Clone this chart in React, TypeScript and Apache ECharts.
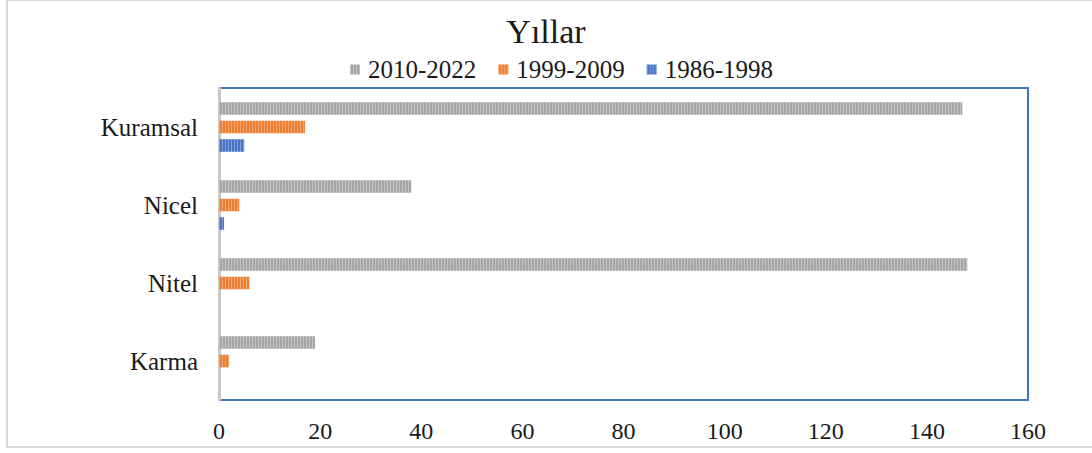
import React, { useEffect, useRef } from "react";
import * as echarts from "echarts";

const categories = ["Kuramsal", "Nicel", "Nitel", "Karma"];
const seriesNames = ["2010-2022", "1999-2009", "1986-1998"];
const values2010_2022 = [147, 38, 148, 19];
const values1999_2009 = [17, 4, 6, 2];
const values1986_1998 = [5, 1, 0, 0];
const xTicks = { min: 0, max: 160, interval: 20 };
const colors = ["#a5a5a5", "#ed7d31", "#4472c4"];

export default function App() {
  const ref = useRef<HTMLDivElement>(null);
  useEffect(() => {
    if (!ref.current) return;
    const chart = echarts.init(ref.current, null, { renderer: "svg" });
    const serif = "'Liberation Serif', 'Times New Roman', serif";
    const decal = {
      symbol: "rect",
      symbolSize: 1,
      dashArrayX: [1, 2],
      dashArrayY: [1, 0],
      rotation: 0,
      color: "rgba(255,255,255,0.35)",
    };
    const allValues = [values2010_2022, values1999_2009, values1986_1998];
    chart.setOption({
      animation: false,
      backgroundColor: "#ffffff",
      title: {
        text: "Yıllar",
        left: "center",
        top: 9,
        textStyle: { fontFamily: serif, fontSize: 34, fontWeight: "normal", color: "#1a1a1a" },
      },
      legend: {
        data: seriesNames,
        top: 52,
        left: 345,
        itemWidth: 10,
        itemHeight: 10,
        itemGap: 22,
        icon: "rect",
        textStyle: { fontFamily: serif, fontSize: 25, color: "#1a1a1a", padding: [0, 0, 0, 3] },
      },
      graphic: [
        {
          type: "rect",
          shape: { x: 7, y: 0, width: 1090, height: 447 },
          style: { fill: "none", stroke: "#d9d9d9", lineWidth: 2 },
          silent: true,
        },
      ],
      grid: {
        left: 219,
        right: 64,
        top: 88,
        bottom: 53,
        show: true,
        borderColor: "#4472c4",
        borderWidth: 2,
        backgroundColor: "transparent",
        containLabel: false,
      },
      xAxis: {
        type: "value",
        min: xTicks.min,
        max: xTicks.max,
        interval: xTicks.interval,
        axisLine: { show: false },
        axisTick: { show: false },
        splitLine: { show: false },
        axisLabel: { fontFamily: serif, fontSize: 24, color: "#1a1a1a", margin: 19 },
      },
      yAxis: {
        type: "category",
        data: categories,
        inverse: true,
        axisLine: { show: true, lineStyle: { color: "#c8c8c8", width: 3 } },
        axisTick: { show: false },
        axisLabel: { fontFamily: serif, fontSize: 25, color: "#1a1a1a", margin: 21 },
      },
      series: seriesNames.map((name, i) => ({
        name,
        type: "bar",
        data: allValues[i],
        barWidth: 12.5,
        barGap: "48%",
        itemStyle: { color: colors[i], decal },
      })),
    });
    return () => chart.dispose();
  }, []);
  return (
    <div
      ref={ref}
      style={{ position: "fixed", left: 0, top: 0, width: 1092, height: 453 }}
    />
  );
}
